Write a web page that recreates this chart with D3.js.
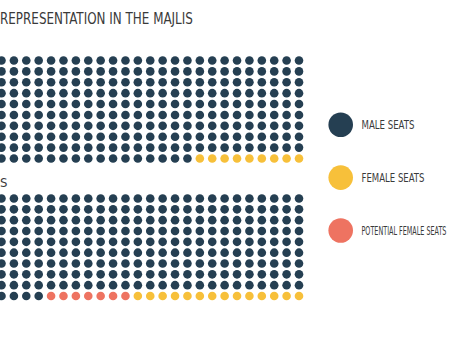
<!DOCTYPE html>
<html>
<head>
<meta charset="utf-8">
<script src="https://cdn.jsdelivr.net/npm/d3@7"></script>
<style>
  html, body { margin: 0; padding: 0; background: #fff; overflow: hidden; }
  svg { display: block; }
  text { font-family: "Liberation Sans Narrow", "DejaVu Sans Condensed", "Roboto", sans-serif; fill: #3a3a3a; }
</style>
</head>
<body>
<svg id="chart" width="454" height="341"></svg>
<script>
const title = "REPRESENTATION IN THE MAJLIS";
const gridLabels = ["", "S"];
const categories = ["MALE SEATS", "FEMALE SEATS", "POTENTIAL FEMALE SEATS"];
const colors = ["#253f52", "#f7c03a", "#ee7361"];
// seats per grid, in category order: male, female, potential female
const maleSeats = [281, 269];
const femaleSeats = [9, 14];
const potentialSeats = [0, 7];
const totalSeats = 290;
const columns = 29;
const rows = 10;

const svg = d3.select("#chart");

// horizontally condense a text to a target width with a transform
function condense(sel, x0, y0, width) {
  sel.each(function (d, i) {
    const w = typeof width === "function" ? width(d, i) : width;
    const nat = this.getComputedTextLength();
    const k = Math.min(1, w / nat);
    d3.select(this).attr("x", 0).attr("y", 0)
      .attr("transform", `translate(${x0},${y0}) scale(${k},1)`);
  });
}

svg.append("text")
  .style("font-size", "16.5px")
  .text(title)
  .call(condense, 0, 24, 193);

const x = d3.scaleLinear().domain([4, columns - 1]).range([1.5, 299]);
const gridTops = [[60.5, 158.5], [198.5, 296]];

[0, 1].forEach(g => {
  const y = d3.scaleLinear().domain([0, rows - 1]).range(gridTops[g]);
  // fill order: male, potential, female
  const seq = [];
  for (let i = 0; i < maleSeats[g]; i++) seq.push(0);
  for (let i = 0; i < potentialSeats[g]; i++) seq.push(2);
  for (let i = 0; i < femaleSeats[g]; i++) seq.push(1);
  const dots = seq.map((c, i) => ({ c, row: Math.floor(i / columns), col: i % columns }));
  svg.append("g").selectAll("circle").data(dots).join("circle")
    .attr("cx", d => x(d.col))
    .attr("cy", d => y(d.row))
    .attr("r", 4.3)
    .attr("fill", d => colors[d.c]);
  if (gridLabels[g]) {
    svg.append("text").attr("x", 0).attr("y", y(0) - 11.5)
      .style("font-size", "13px").text(gridLabels[g]);
  }
});

const labelWidths = [53, 63, 85];
const ly = d3.scalePoint().domain(categories).range([124.7, 230.5]);
const legend = svg.append("g").selectAll("g").data(categories).join("g")
  .attr("transform", d => `translate(0,${ly(d)})`);
legend.append("circle").attr("cx", 340.7).attr("cy", 0).attr("r", 12.3)
  .attr("fill", (d, i) => colors[i]);
legend.append("text")
  .style("font-size", "12.5px").text(d => d)
  .call(condense, 361.5, 4.5, (d, i) => labelWidths[i]);
</script>
</body>
</html>
